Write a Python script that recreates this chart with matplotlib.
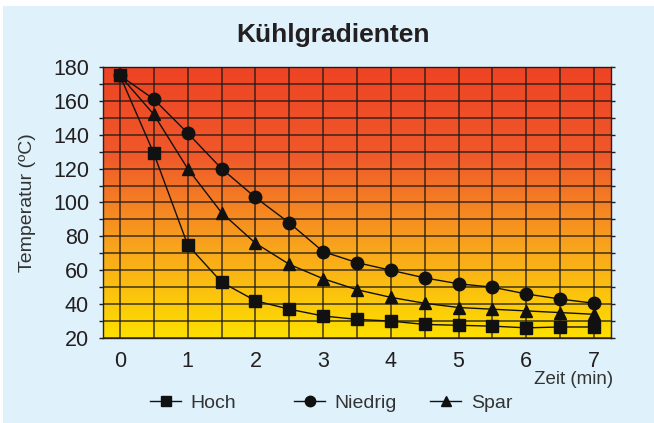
import numpy as np
import matplotlib.pyplot as plt
from matplotlib.colors import LinearSegmentedColormap
from matplotlib.patches import Rectangle
from matplotlib.lines import Line2D

plt.rcParams['font.family'] = ['Liberation Sans', 'DejaVu Sans']

# Abkühlzeit in Minuten
zeit = [0, 0.5, 1, 1.5, 2, 2.5, 3, 3.5, 4, 4.5, 5, 5.5, 6, 6.5, 7]
hoch = [175, 129, 75, 53, 42, 37, 33, 31, 30, 28, 27.5, 27, 26, 26.5, 26.5]
niedrig = [175, 161, 141, 120, 103, 88, 71, 64.5, 60, 55.5, 52, 50, 46, 43, 40.5]
spar = [175, 152, 120, 94, 76, 63.5, 55, 48.5, 44, 40.5, 38, 37, 36, 35, 34]
y_ticks = [20, 40, 60, 80, 100, 120, 140, 160, 180]

ink = '#231f20'

fig = plt.figure(figsize=(6.54, 4.23), dpi=100, facecolor='white')
fig.patches.append(Rectangle((3 / 654, 0), 1, 1 - 6 / 423, transform=fig.transFigure,
                             facecolor='#dff1fb', edgecolor='none', zorder=-10))

ax = fig.add_axes([103 / 654, 1 - 338 / 423, 508 / 654, 271 / 423])
ax.set_xlim(-0.25, 7.25)
ax.set_ylim(20, 180)

# Hintergrund: Farbverlauf von Gelb (unten) nach Rot (oben)
cmap = LinearSegmentedColormap.from_list('heat', ['#fde000', '#f9a51c', '#f0592a', '#ee4324'])
grad = np.linspace(0, 1, 256).reshape(-1, 1)
ax.imshow(grad, cmap=cmap, origin='lower', aspect='auto',
          extent=(-0.25, 7.25, 20, 180), zorder=0)

ax.set_xticks(range(8))
ax.set_xticks(np.arange(0.5, 7.5, 1), minor=True)
ax.set_yticks(y_ticks)
ax.set_yticks(np.arange(30, 180, 20), minor=True)
ax.grid(which='both', color='#1e1a18', lw=1.1, alpha=0.85, zorder=1)
ax.set_axisbelow(False)

ax.tick_params(axis='x', which='both', length=0, labelsize=15.5, labelcolor=ink, pad=9)
ax.tick_params(axis='y', which='both', direction='out', length=3, width=1,
               color=ink, labelsize=15.5, labelcolor=ink, right=True, pad=7)
for s in ax.spines.values():
    s.set_color('#2a2220')
    s.set_linewidth(1)

ax.plot(zeit, hoch, color='#111', lw=1, marker='s', ms=9, zorder=3)
ax.plot(zeit, niedrig, color='#111', lw=1, marker='o', ms=9, zorder=3)
ax.plot(zeit, spar, color='#111', lw=1, marker='^', ms=9, zorder=3)

fig.text(333 / 654, 1 - 35 / 423, 'Kühlgradienten', ha='center', va='center',
         fontsize=19, fontweight='bold', color=ink)
fig.text(28 / 654, 1 - 203 / 423, 'Temperatur (ºC)', rotation=90, ha='center', va='center',
         fontsize=14, color='#333')
fig.text(613 / 654, 1 - 379 / 423, 'Zeit (min)', ha='right', va='center',
         fontsize=13.5, color='#333')

# Legende: drei einzelne Einträge am unteren Rand
for marker, label, x0 in [('s', 'Hoch', 150), ('o', 'Niedrig', 294), ('^', 'Spar', 430)]:
    h = Line2D([], [], color='#111', lw=1, marker=marker, ms=7.5)
    fig.legend([h], [label], loc='center left', bbox_to_anchor=(x0 / 654, 1 - 403 / 423),
               frameon=False, fontsize=14, handlelength=1.6, handletextpad=0.5,
               borderpad=0, borderaxespad=0, labelcolor='#333')

fig.savefig('out.png', dpi=100)
